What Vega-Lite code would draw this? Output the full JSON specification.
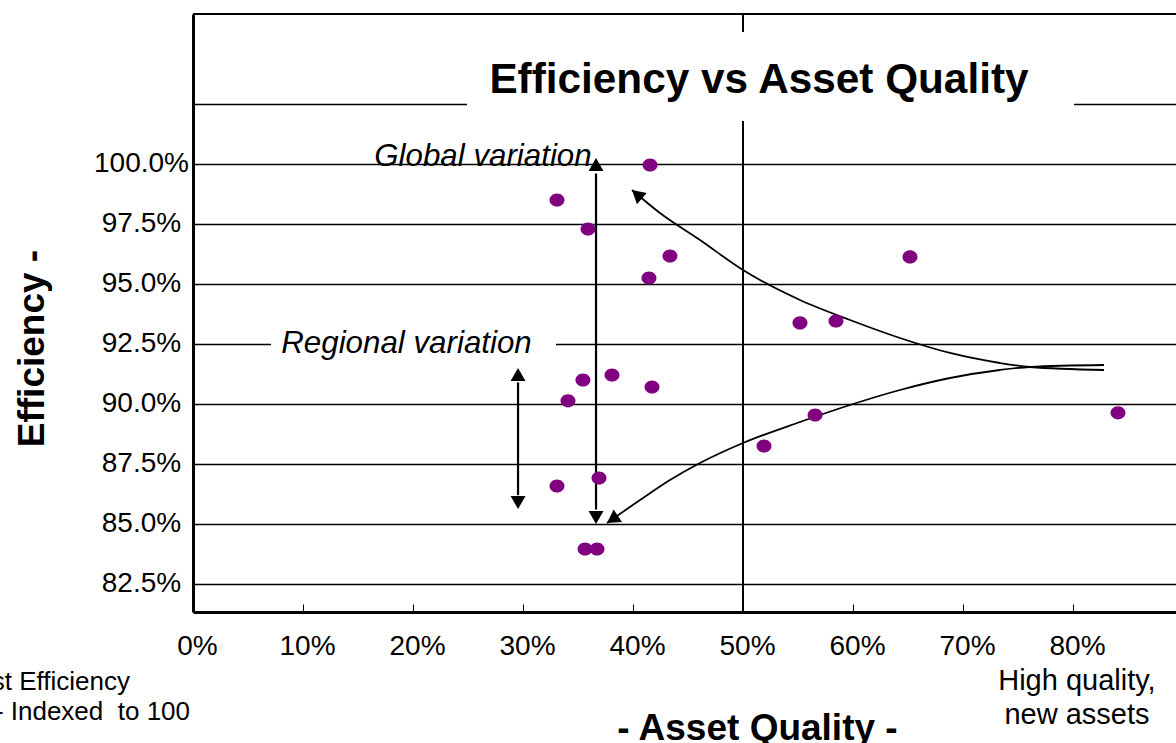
{
  "$schema": "https://vega.github.io/schema/vega-lite/v6.json",
  "width": 983,
  "height": 598,
  "autosize": {"type": "none"},
  "padding": {"left": 193, "top": 14, "right": 0, "bottom": 131},
  "background": "white",
  "config": {"font": "Liberation Sans", "view": {"stroke": null}},
  "datasets": {
    "points": [
      {"q": 0.4155, "e": 0.9996},
      {"q": 0.3309, "e": 0.985},
      {"q": 0.3591, "e": 0.9729},
      {"q": 0.4336, "e": 0.9617},
      {"q": 0.4145, "e": 0.9525},
      {"q": 0.6518, "e": 0.9613},
      {"q": 0.5518, "e": 0.9338},
      {"q": 0.5845, "e": 0.9346},
      {"q": 0.3809, "e": 0.9121},
      {"q": 0.3545, "e": 0.91},
      {"q": 0.3409, "e": 0.9013},
      {"q": 0.4173, "e": 0.9071},
      {"q": 0.8409, "e": 0.8963},
      {"q": 0.5655, "e": 0.8954},
      {"q": 0.5191, "e": 0.8825},
      {"q": 0.3309, "e": 0.8658},
      {"q": 0.3691, "e": 0.8692},
      {"q": 0.3564, "e": 0.8396},
      {"q": 0.3673, "e": 0.8396}
    ],
    "curves": [
      {"curve": "upper", "q": 0.3991, "e": 0.98917},
      {"curve": "upper", "q": 0.4245, "e": 0.97958},
      {"curve": "upper", "q": 0.4609, "e": 0.96833},
      {"curve": "upper", "q": 0.5, "e": 0.95583},
      {"curve": "upper", "q": 0.5518, "e": 0.94333},
      {"curve": "upper", "q": 0.5973, "e": 0.935},
      {"curve": "upper", "q": 0.6427, "e": 0.9275},
      {"curve": "upper", "q": 0.6882, "e": 0.92125},
      {"curve": "upper", "q": 0.7336, "e": 0.91708},
      {"curve": "upper", "q": 0.7609, "e": 0.91542},
      {"curve": "upper", "q": 0.8282, "e": 0.91417},
      {"curve": "lower", "q": 0.3764, "e": 0.85042},
      {"curve": "lower", "q": 0.4064, "e": 0.86},
      {"curve": "lower", "q": 0.4336, "e": 0.86833},
      {"curve": "lower", "q": 0.4609, "e": 0.87542},
      {"curve": "lower", "q": 0.5, "e": 0.88375},
      {"curve": "lower", "q": 0.5518, "e": 0.8925},
      {"curve": "lower", "q": 0.5973, "e": 0.89958},
      {"curve": "lower", "q": 0.6427, "e": 0.90583},
      {"curve": "lower", "q": 0.6882, "e": 0.91083},
      {"curve": "lower", "q": 0.7336, "e": 0.91417},
      {"curve": "lower", "q": 0.7609, "e": 0.91542},
      {"curve": "lower", "q": 0.8282, "e": 0.91625}
    ],
    "heads": [
      {"q": 0.3664, "e": 1.0025, "dir": 0},
      {"q": 0.3664, "e": 0.85, "dir": 180},
      {"q": 0.2955, "e": 0.915, "dir": 0},
      {"q": 0.2955, "e": 0.85625, "dir": 180},
      {"q": 0.3991, "e": 0.98917, "dir": 311},
      {"q": 0.3764, "e": 0.85042, "dir": 236}
    ],
    "shafts": [
      {"q": 0.3664, "e": 0.996, "e2": 0.856},
      {"q": 0.2955, "e": 0.909, "e2": 0.862}
    ],
    "frame": [
      {"q": 0.5, "q2": 0.5, "e": 0.81333, "e2": 1.0625},
      {"q": 0, "q2": 0.89364, "e": 1.0625, "e2": 1.0625}
    ],
    "boxes": [
      {"q": 0.2491, "q2": 0.8009, "e": 1.0179, "e2": 1.055},
      {"q": 0.0709, "q2": 0.33, "e": 0.918, "e2": 0.935}
    ],
    "title": [{"q": 0.5145, "e": 1.0296, "label": "Efficiency vs Asset Quality"}],
    "notes": [
      {"q": 0.2636, "e": 0.99917, "label": "Global variation"},
      {"q": 0.1941, "e": 0.92125, "label": "Regional variation"}
    ],
    "leftNotes": [
      {"q": -0.0573, "e": 0.78083, "label": "Cost Efficiency"},
      {"q": -0.0027, "e": 0.76833, "label": "- Indexed\u00a0 to 100"}
    ],
    "rightNotes": [
      {"q": 0.8036, "e": 0.78083, "label": "High quality,"},
      {"q": 0.8036, "e": 0.76667, "label": "new assets"}
    ]
  },
  "encoding": {
    "x": {
      "field": "q",
      "type": "quantitative",
      "scale": {"domain": [0, 0.89364], "nice": false, "zero": false},
      "axis": {
        "values": [0, 0.1, 0.2, 0.3, 0.4, 0.5, 0.6, 0.7, 0.8],
        "format": ".0%",
        "grid": false,
        "domainColor": "black",
        "domainWidth": 3,
        "ticks": true,
        "tickSize": -8,
        "tickColor": "black",
        "tickWidth": 1,
        "labelFontSize": 28,
        "labelColor": "black",
        "labelPadding": 28,
        "labelOffset": 4,
        "labelFlush": false,
        "labelOverlap": false,
        "title": "- Asset Quality -",
        "titleFontSize": 37,
        "titleFontWeight": "bold",
        "titleColor": "black",
        "titleX": 564,
        "titleY": 127,
        "titleAlign": "center",
        "titleBaseline": "alphabetic"
      }
    },
    "y": {
      "field": "e",
      "type": "quantitative",
      "scale": {"domain": [0.81333, 1.0625], "nice": false, "zero": false},
      "axis": {
        "values": [0.825, 0.85, 0.875, 0.9, 0.925, 0.95, 0.975, 1.0, 1.025],
        "labelExpr": "datum.value > 1.01 ? '' : format(datum.value, '.1%')",
        "grid": true,
        "gridColor": "black",
        "gridWidth": 1.4,
        "gridOpacity": 1,
        "domainColor": "black",
        "domainWidth": 3,
        "ticks": false,
        "labelFontSize": 28,
        "labelColor": "black",
        "labelAlign": "center",
        "labelBaseline": "middle",
        "labelPadding": 52,
        "labelFlush": false,
        "labelOverlap": false,
        "title": "Efficiency -",
        "titleFontSize": 37,
        "titleFontWeight": "bold",
        "titleColor": "black",
        "titleAngle": -90,
        "titleX": -150,
        "titleY": 334,
        "titleAlign": "center",
        "titleBaseline": "alphabetic"
      }
    }
  },
  "layer": [
    {
      "data": {"name": "frame"},
      "mark": {"type": "rule", "color": "black", "strokeWidth": 2},
      "encoding": {"x2": {"field": "q2"}, "y2": {"field": "e2"}}
    },
    {
      "data": {"name": "boxes"},
      "mark": {"type": "rect", "fill": "white", "stroke": null},
      "encoding": {"x2": {"field": "q2"}, "y2": {"field": "e2"}}
    },
    {
      "data": {"name": "shafts"},
      "mark": {"type": "rule", "color": "black", "strokeWidth": 2.2},
      "encoding": {"y2": {"field": "e2"}}
    },
    {
      "data": {"name": "curves"},
      "mark": {"type": "line", "color": "black", "strokeWidth": 1.8, "interpolate": "monotone"},
      "encoding": {"detail": {"field": "curve", "type": "nominal"}}
    },
    {
      "data": {"name": "points"},
      "mark": {
        "type": "point",
        "filled": true,
        "fill": "#800080",
        "opacity": 1,
        "strokeWidth": 0,
        "size": 225,
        "shape": "M-1,0C-1,-0.48,-0.55,-0.87,0,-0.87C0.55,-0.87,1,-0.48,1,0C1,0.48,0.55,0.87,0,0.87C-0.55,0.87,-1,0.48,-1,0Z"
      }
    },
    {
      "data": {"name": "heads"},
      "mark": {
        "type": "point",
        "filled": true,
        "fill": "black",
        "opacity": 1,
        "strokeWidth": 0,
        "size": 169,
        "shape": "M0,0L-1.15,2L1.15,2Z"
      },
      "encoding": {"angle": {"field": "dir", "type": "quantitative", "scale": null}}
    },
    {
      "data": {"name": "title"},
      "mark": {"type": "text", "fontSize": 42.3, "fontWeight": "bold", "color": "black", "align": "center", "baseline": "alphabetic"},
      "encoding": {"text": {"field": "label"}}
    },
    {
      "data": {"name": "notes"},
      "mark": {"type": "text", "fontSize": 31.3, "fontStyle": "italic", "color": "black", "align": "center", "baseline": "alphabetic"},
      "encoding": {"text": {"field": "label"}}
    },
    {
      "data": {"name": "leftNotes"},
      "mark": {"type": "text", "fontSize": 26, "color": "black", "align": "right", "baseline": "alphabetic"},
      "encoding": {"text": {"field": "label"}}
    },
    {
      "data": {"name": "rightNotes"},
      "mark": {"type": "text", "fontSize": 29, "color": "black", "align": "center", "baseline": "alphabetic"},
      "encoding": {"text": {"field": "label"}}
    }
  ]
}
